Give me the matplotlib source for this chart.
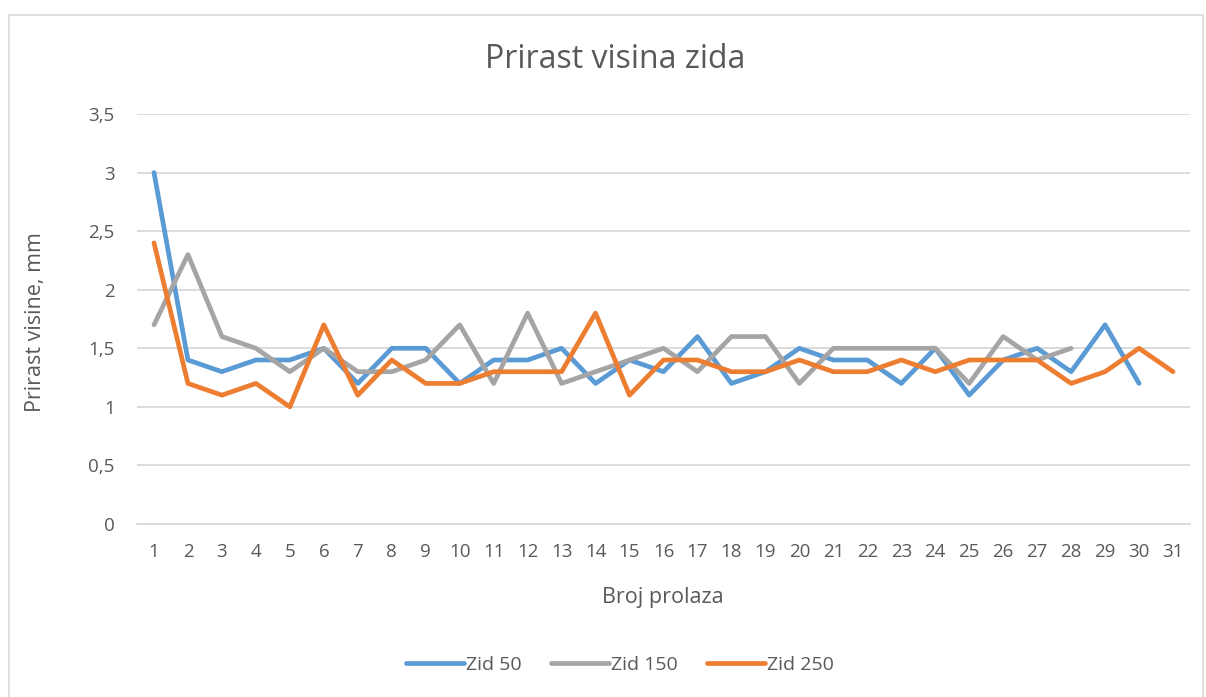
import matplotlib.pyplot as plt
from matplotlib.patches import Rectangle

plt.rcParams['font.family'] = ['Open Sans', 'DejaVu Sans']

passes = list(range(1, 32))
zid_50 = [3.0, 1.4, 1.3, 1.4, 1.4, 1.5, 1.2, 1.5, 1.5, 1.2, 1.4, 1.4, 1.5, 1.2, 1.4,
          1.3, 1.6, 1.2, 1.3, 1.5, 1.4, 1.4, 1.2, 1.5, 1.1, 1.4, 1.5, 1.3, 1.7, 1.2]
zid_150 = [1.7, 2.3, 1.6, 1.5, 1.3, 1.5, 1.3, 1.3, 1.4, 1.7, 1.2, 1.8, 1.2, 1.3, 1.4,
           1.5, 1.3, 1.6, 1.6, 1.2, 1.5, 1.5, 1.5, 1.5, 1.2, 1.6, 1.4, 1.5]
zid_250 = [2.4, 1.2, 1.1, 1.2, 1.0, 1.7, 1.1, 1.4, 1.2, 1.2, 1.3, 1.3, 1.3, 1.8, 1.1,
           1.4, 1.4, 1.3, 1.3, 1.4, 1.3, 1.3, 1.4, 1.3, 1.4, 1.4, 1.4, 1.2, 1.3, 1.5, 1.3]
y_ticks = [0, 0.5, 1, 1.5, 2, 2.5, 3, 3.5]
y_tick_labels = ['0', '0,5', '1', '1,5', '2', '2,5', '3', '3,5']

series = [
    ('Zid 50', zid_50, '#5B9BD5'),
    ('Zid 150', zid_150, '#A5A5A5'),
    ('Zid 250', zid_250, '#ED7D31'),
]

W, H = 1206, 697
fig = plt.figure(figsize=(W / 100, H / 100), dpi=100)
fig.patch.set_facecolor('white')

# chart frame
fig.patches.append(Rectangle((9 / W, -0.01), (1203 - 9) / W, 1 - 15 / H + 0.01,
                             transform=fig.transFigure, fill=False,
                             edgecolor='#D9D9D9', linewidth=1.2))

ax = fig.add_axes([137 / W, 1 - 524 / H, (1190 - 137) / W, (524 - 114) / H])

for name, vals, color in series:
    ax.plot(passes[:len(vals)], vals, color=color, linewidth=3.4,
            solid_joinstyle='round', solid_capstyle='round', label=name, zorder=3)

ax.set_xlim(0.5, 31.5)
ax.set_ylim(0, 3.5)
ax.set_xticks(passes)
ax.set_xticklabels([str(p) for p in passes])
ax.set_yticks(y_ticks)
ax.set_yticklabels(y_tick_labels)

text_color = '#595959'
ax.tick_params(axis='both', length=0, labelsize=13.5, labelcolor=text_color)
ax.tick_params(axis='y', pad=16)
ax.tick_params(axis='x', pad=14)

ax.grid(axis='y', color='#D9D9D9', linewidth=1.3, zorder=0)
for side in ['top', 'right', 'left']:
    ax.spines[side].set_visible(False)
ax.spines['bottom'].set_color('#D9D9D9')
ax.spines['bottom'].set_linewidth(1.3)

fig.text(615 / W, 1 - 60 / H, 'Prirast visina zida', ha='center', va='center',
         fontsize=23, color=text_color)
fig.text(663 / W, 1 - 597 / H, 'Broj prolaza', ha='center', va='center',
         fontsize=15.5, color=text_color)
fig.text(36 / W, 1 - 322 / H, 'Prirast visine, mm', ha='center', va='center',
         rotation=90, fontsize=15.5, color=text_color)

leg = fig.legend(loc='center', bbox_to_anchor=(620 / W, 1 - 665 / H), ncol=3,
                 frameon=False, fontsize=14, handlelength=3.0, handletextpad=0.1,
                 columnspacing=1.5, labelcolor=text_color)

fig.savefig('out.png', dpi=100)
